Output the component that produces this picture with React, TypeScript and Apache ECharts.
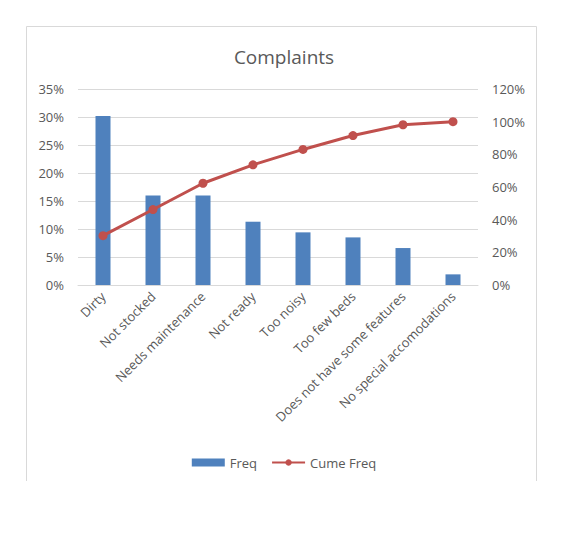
import { useEffect, useRef } from "react";
import * as echarts from "echarts";

const categories = [
  "Dirty",
  "Not stocked",
  "Needs maintenance",
  "Not ready",
  "Too noisy",
  "Too few beds",
  "Does not have some features",
  "No special accomodations",
];

// share of complaints per category
const freq = [0.302, 0.16, 0.16, 0.113, 0.094, 0.085, 0.066, 0.019];
// running total
const cumeFreq = [0.302, 0.462, 0.623, 0.736, 0.83, 0.915, 0.981, 1.0];

const FONT = "Open Sans";
const TEXT = "#595959";
const GRID_LINE = "#d9d9d9";

const pct = (v: number) => `${Math.round(v * 100)}%`;

export default function App() {
  const divRef = useRef<HTMLDivElement>(null);

  useEffect(() => {
    if (!divRef.current) return;
    const chart = echarts.init(divRef.current, null, { renderer: "svg" });

    chart.setOption({
      animation: false,
      textStyle: { fontFamily: FONT, color: TEXT },
      title: {
        text: "Complaints",
        left: "center",
        top: 42,
        textStyle: { fontFamily: FONT, fontSize: 19, fontWeight: "normal", color: TEXT },
      },
      graphic: [
        {
          type: "polyline",
          shape: {
            points: [
              [26.5, 481],
              [26.5, 26.5],
              [536.5, 26.5],
              [536.5, 481],
            ],
          },
          style: { stroke: GRID_LINE, lineWidth: 1, fill: "none" },
          silent: true,
        },
      ],
      legend: {
        left: "center",
        top: 451,
        itemWidth: 33,
        itemHeight: 8,
        itemGap: 14,
        textStyle: { fontFamily: FONT, fontSize: 13, color: TEXT },
        data: [
          { name: "Freq", icon: "rect" },
          { name: "Cume Freq" },
        ],
      },
      grid: {
        left: 78,
        right: 90,
        top: 89,
        bottom: 259,
        outerBoundsMode: "none",
      },
      xAxis: {
        type: "category",
        data: categories,
        axisLine: { lineStyle: { color: GRID_LINE, width: 1 } },
        axisTick: { show: false },
        axisLabel: {
          rotate: 45,
          interval: 0,
          margin: 9,
          fontFamily: FONT,
          fontSize: 13,
          color: TEXT,
        },
      },
      yAxis: [
        {
          type: "value",
          min: 0,
          max: 0.35,
          interval: 0.05,
          axisLine: { show: false },
          axisTick: { show: false },
          splitLine: { lineStyle: { color: GRID_LINE, width: 1 } },
          axisLabel: {
            formatter: pct,
            margin: 14,
            fontFamily: FONT,
            fontSize: 13,
            color: TEXT,
          },
        },
        {
          type: "value",
          min: 0,
          max: 1.2,
          interval: 0.2,
          position: "right",
          axisLine: { show: false },
          axisTick: { show: false },
          splitLine: { show: false },
          axisLabel: {
            formatter: pct,
            margin: 14,
            fontFamily: FONT,
            fontSize: 13,
            color: TEXT,
          },
        },
      ],
      series: [
        {
          name: "Freq",
          type: "bar",
          data: freq,
          yAxisIndex: 0,
          barWidth: 15,
          itemStyle: { color: "#4f81bd" },
        },
        {
          name: "Cume Freq",
          type: "line",
          data: cumeFreq,
          yAxisIndex: 1,
          symbol: "circle",
          symbolSize: 9,
          lineStyle: { color: "#c0504d", width: 3 },
          itemStyle: { color: "#c0504d" },
        },
      ],
    });

    return () => {
      chart.dispose();
    };
  }, []);

  return (
    <div style={{ position: "fixed", left: 0, top: 0, width: 568, height: 544, background: "#fff" }}>
      <div ref={divRef} style={{ width: 568, height: 544 }} />
    </div>
  );
}
